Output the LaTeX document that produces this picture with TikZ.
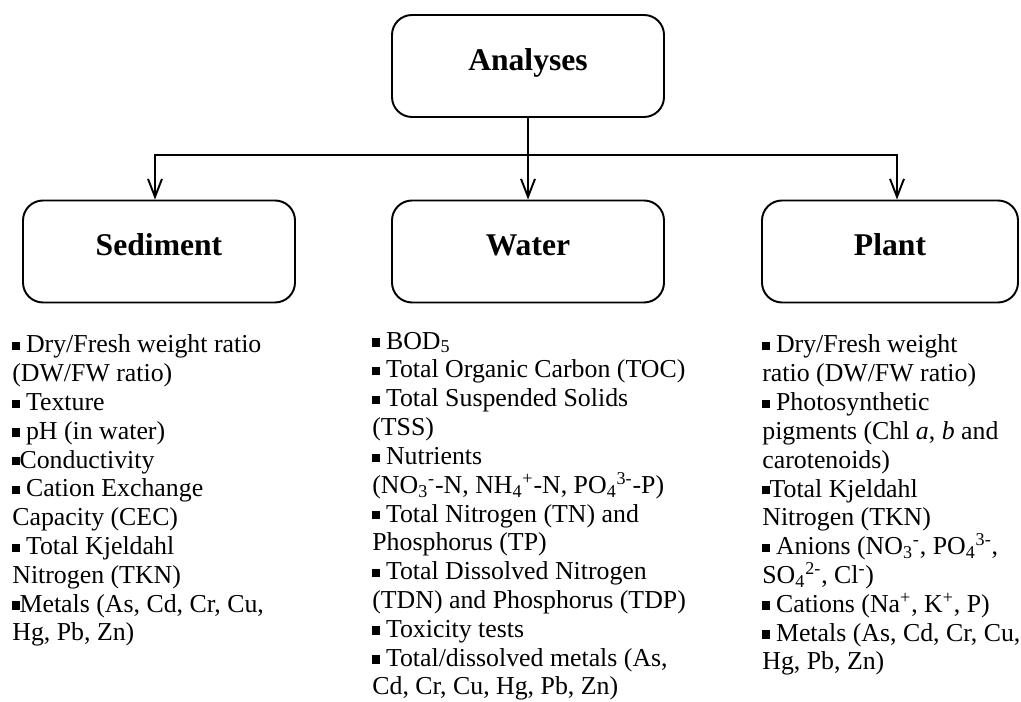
\documentclass[tikz,border=0pt]{standalone}
\usepackage{fontspec}
\setmainfont{Liberation Serif}
\usepackage{tikz}
\usetikzlibrary{arrows.meta}
\newcommand{\sqbul}{\rule[0.22ex]{0.28em}{0.32em}}
\tikzset{
  anbox/.style={draw=black, line width=1.1pt, rounded corners=0.4cm, minimum width=5.44cm, minimum height=2.04cm, text height=0.45cm, text depth=0.27cm, font=\fontsize{18}{21}\selectfont\bfseries},
  anlist/.style={inner sep=0pt, anchor=base west, align=left, font=\fontsize{14.7}{16.4}\selectfont},
  anlink/.style={line width=1.1pt, draw=black, -{Straight Barb[length=0.36cm,width=0.28cm]}},
}
\begin{document}
\begin{tikzpicture}
\useasboundingbox (0,0) rectangle (20.42,14.04);
\node[anbox] (ana) at (10.56,12.72) {Analyses};
\node[anbox] (sed) at (3.18,9.01) {Sediment};
\node[anbox] (wat) at (10.56,9.01) {Water};
\node[anbox, minimum width=5.12cm] (pla) at (17.80,9.01) {Plant};
\coordinate (bar) at (10.56,10.94);
\draw[anlink] (ana.south) -- (wat.north);
\draw[anlink] (bar) -| ([xshift=-0.08cm]sed.north);
\draw[anlink] (bar) -| ([xshift=0.14cm]pla.north);
\node[anlist] (sedlist) at (0.24,1.22) {\sqbul{} Dry/Fresh weight ratio\\
(DW/FW ratio)\\
\sqbul{} Texture\\
\sqbul{} pH (in water)\\
\sqbul{}Conductivity\\
\sqbul{} Cation Exchange\\
Capacity (CEC)\\
\sqbul{} Total Kjeldahl\\
Nitrogen (TKN)\\
\sqbul{}Metals (As, Cd, Cr, Cu,\\
Hg, Pb, Zn)};
\node[anlist] (watlist) at (7.44,0.14) {\sqbul{} BOD\textsubscript{5}\\
\sqbul{} Total Organic Carbon (TOC)\\
\sqbul{} Total Suspended Solids\\
(TSS)\\
\sqbul{} Nutrients\\
(NO\textsubscript{3}\textsuperscript{-}-N, NH\textsubscript{4}\textsuperscript{+}-N, PO\textsubscript{4}\textsuperscript{3-}-P)\\
\sqbul{} Total Nitrogen (TN) and\\
Phosphorus (TP)\\
\sqbul{} Total Dissolved Nitrogen\\
(TDN) and Phosphorus (TDP)\\
\sqbul{} Toxicity tests\\
\sqbul{} Total/dissolved metals (As,\\
Cd, Cr, Cu, Hg, Pb, Zn)};
\node[anlist] (plalist) at (15.24,0.64) {\sqbul{} Dry/Fresh weight\\
ratio (DW/FW ratio)\\
\sqbul{} Photosynthetic\\
pigments (Chl \textit{a}, \textit{b} and\\
carotenoids)\\
\sqbul{}Total Kjeldahl\\
Nitrogen (TKN)\\
\sqbul{} Anions (NO\textsubscript{3}\textsuperscript{-}, PO\textsubscript{4}\textsuperscript{3-},\\
SO\textsubscript{4}\textsuperscript{2-}, Cl\textsuperscript{-})\\
\sqbul{} Cations (Na\textsuperscript{+}, K\textsuperscript{+}, P)\\
\sqbul{} Metals (As, Cd, Cr, Cu,\\
Hg, Pb, Zn)};
\end{tikzpicture}
\end{document}
